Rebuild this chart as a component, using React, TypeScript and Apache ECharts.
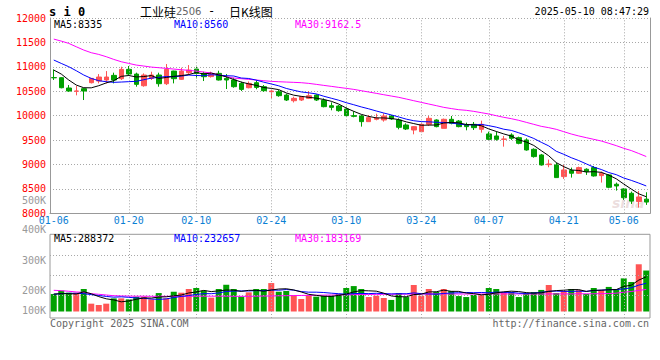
import React, { useEffect, useRef } from 'react';
import * as echarts from 'echarts';

// ---------------- data ----------------
const dates = [
  '01-06','01-07','01-08','01-09','01-10','01-13','01-14','01-15','01-16','01-17',
  '01-20','01-21','01-22','01-23','01-24','01-27','02-05','02-06','02-07','02-10',
  '02-11','02-12','02-13','02-14','02-17','02-18','02-19','02-20','02-21','02-24',
  '02-25','02-26','02-27','02-28','03-03','03-04','03-05','03-06','03-07','03-10',
  '03-11','03-12','03-13','03-14','03-17','03-18','03-19','03-20','03-21','03-24',
  '03-25','03-26','03-27','03-28','03-31','04-01','04-02','04-03','04-07','04-08',
  '04-09','04-10','04-11','04-14','04-15','04-16','04-17','04-18','04-21','04-22',
  '04-23','04-24','04-25','04-28','04-29','04-30','05-06','05-07','05-08','05-09',
];
const labelDates = ['01-06','01-20','02-10','02-24','03-10','03-24','04-07','04-21','05-06'];

const opens = [
  10780,10777,10566,10500,10552,10675,10709,10730,10825,10757,
  10948,10852,10613,10763,10832,10654,10913,10743,10880,10954,
  10866,10800,10866,10763,10730,10661,10572,10675,10593,10490,
  10490,10422,10306,10320,10354,10422,10313,10204,10197,10136,
  10000,9993,9877,9925,9911,9993,9911,9809,9706,9672,
  9822,9911,9740,9925,9890,9809,9822,9720,9625,9584,
  9515,9604,9549,9502,9311,9195,8997,8990,8752,8875,
  8820,8902,8936,8772,8786,8595,8499,8410,8240,8290,
];
const closes = [
  10775,10572,10504,10505,10504,10763,10791,10791,10730,10948,
  10852,10641,10832,10832,10654,10948,10757,10913,10934,10866,
  10798,10850,10730,10730,10593,10538,10661,10579,10511,10504,
  10409,10320,10354,10388,10409,10320,10184,10170,10102,10000,
  9986,9877,9959,9950,9993,9932,9761,9727,9775,9822,
  9945,9775,9925,9843,9775,9775,9754,9822,9515,9515,
  9522,9536,9433,9297,9161,8990,9010,8731,8888,8820,
  8936,8854,8765,8820,8533,8560,8320,8250,8335,8230,
];
const lows = [
  10730,10560,10490,10416,10320,10660,10661,10661,10661,10730,
  10818,10593,10593,10730,10593,10627,10661,10730,10832,10763,
  10709,10780,10720,10545,10572,10504,10560,10540,10490,10354,
  10388,10300,10270,10300,10340,10300,10170,10109,10081,9980,
  9966,9775,9877,9904,9877,9911,9720,9706,9618,9672,
  9788,9761,9740,9822,9761,9700,9706,9652,9502,9488,
  9365,9502,9413,9283,9140,8977,8943,8731,8704,8731,
  8806,8786,8752,8629,8513,8465,8274,8192,8117,8172,
];
const highs = [
  10948,10785,10627,10607,10565,10770,10852,10913,10880,11002,
  11016,10880,10866,10900,10880,11057,10920,10982,11036,11002,
  10900,10900,10920,10852,10777,10695,10700,10730,10627,10525,
  10525,10450,10388,10402,10504,10436,10354,10272,10218,10184,
  10088,10013,10013,10040,10047,10013,9945,9843,9788,9843,
  9993,9925,9940,9993,9911,9857,9870,9897,9672,9672,
  9584,9638,9570,9536,9331,9215,9100,9036,8990,8936,
  8956,8922,8970,8854,8800,8629,8513,8445,8458,8431,
];
const volumes = [
  145000,173000,156000,156000,187000,65000,54000,65000,109000,109000,
  101000,123000,123000,101000,153000,109000,164000,156000,187000,195000,
  173000,115000,187000,222000,187000,123000,159000,187000,187000,236000,
  164000,170000,137000,104000,137000,123000,131000,131000,145000,195000,
  211000,187000,120000,131000,112000,96000,153000,120000,220000,131000,
  187000,162000,187000,170000,128000,120000,137000,137000,195000,187000,
  162000,162000,120000,153000,162000,179000,220000,153000,170000,187000,
  179000,145000,195000,179000,204000,187000,275000,245000,392000,340000,
];

// moving-average values before enough bars exist in this window
const priceMa5Head = [10934, 10852, 10730, 10627];
const priceMa10Head = [11139, 11070, 11002, 10920, 10832, 10763, 10716, 10695, 10682];
const priceMa30 = [
  11568,11527,11480,11411,11343,11289,11254,11207,11152,11104,
  11070,11036,11016,10995,10982,10968,10954,10941,10927,10913,
  10893,10873,10840,10800,10770,10757,10743,10730,10716,10702,
  10695,10688,10682,10675,10661,10641,10620,10600,10579,10559,
  10538,10511,10484,10457,10429,10402,10375,10341,10306,10272,
  10238,10205,10170,10145,10122,10109,10088,10061,10034,9999,
  9966,9938,9904,9863,9822,9781,9754,9720,9672,9624,
  9584,9549,9515,9481,9434,9386,9331,9285,9225,9162.5,
];
const volMa5Head = [145000, 148000, 148000, 145000];
const volMa10Head = [143000, 148000, 151000, 151000, 148000, 140000, 133000, 125000, 119000];
const volMa30 = [
  176000,173000,168000,162000,159000,148000,143000,137000,131000,
  129000,128000,127000,127000,126000,126000,126000,126000,126000,126000,127000,127000,127000,
  127000,127000,126000,126000,
  126000,127000,128000,129000,130000,131000,132000,133000,134000,135000,
  136000,137000,138000,139000,140000,141000,142000,142000,143000,143000,
  144000,144000,145000,145000,146000,146000,146000,
  146000,145000,145000,145000,145000,146000,146000,146000,146000,146000,
  145000,145000,145000,146000,146000,146000,146000,147000,147000,147000,148000,
  149000,152000,160000,166000,175000,183000,
];

const priceMin = 8000;
const priceMax = 12000;
const priceStep = 500;
const volTickLabels = ['500K', '400K', '300K', '200K', '100K'];

const symbolText = 's i 0';
const productName = '工业硅';
const contractCode = '2506';
const titleDash = '-';
const chartKind = '日K线图';
const timestamp = '2025-05-10 08:47:29';
const priceMaLegend = ['MA5:8335', 'MA10:8560', 'MA30:9162.5'];
const volMaLegend = ['MA5:288372', 'MA10:232657', 'MA30:183169'];
const copyrightText = 'Copyright 2025 SINA.COM';
const siteText = 'http://finance.sina.com.cn';

// ---------------- layout / style ----------------
const FONT = '"DejaVu Sans Mono", monospace';
const CJK = '"Noto Sans CJK SC", sans-serif';
const UP = '#ff5555';
const DOWN = '#00a000';
const GRID_LINE = '#a8a8a8';
const BORDER = '#999999';
const MA_COLORS = ['#000000', '#0000ff', '#ff00ff'];
const LEGEND_X = [54, 174, 295];
const PRICE_GRID = { left: 50, top: 18, width: 600, height: 195.3 };
const VOL_GRID = { left: 50, top: 234.3, width: 600, height: 83.7 };
const VOL_ZERO_Y = 311.5;
const VOL_PER_PX = 8300;
const VOL_LINE_Y = [255, 275, 295];
const VOL_LABEL_Y = [200.5, 229.5, 260.7, 290.7, 310.7];

function movingAverage(values: number[], n: number, head: number[]) {
  return values.map((_, i) => {
    if (i < n - 1) return head[i];
    let s = 0;
    for (let k = i - n + 1; k <= i; k++) s += values[k];
    return Math.round((s / n) * 100) / 100;
  });
}

export default function App() {
  const ref = useRef<HTMLDivElement>(null);

  useEffect(() => {
    if (!ref.current) return;
    const chart = echarts.init(ref.current, undefined, { renderer: 'svg' });

    const labelIdx = labelDates.map((d) => dates.indexOf(d));
    const gridIdx = labelIdx.filter((i) => i > 0);
    const volMax = (VOL_ZERO_Y - VOL_GRID.top) * VOL_PER_PX;
    const volMin = -(VOL_GRID.top + VOL_GRID.height - VOL_ZERO_Y) * VOL_PER_PX;
    const volLineValues = VOL_LINE_Y.map((y) => (VOL_ZERO_Y - y) * VOL_PER_PX);

    const candles = dates.map((_, i) => [opens[i], closes[i], lows[i], highs[i]]);
    const priceMa5 = movingAverage(closes, 5, priceMa5Head);
    const priceMa10 = movingAverage(closes, 10, priceMa10Head);
    const volMa5 = movingAverage(volumes, 5, volMa5Head);
    const volMa10 = movingAverage(volumes, 10, volMa10Head);

    const dotted = { color: GRID_LINE, type: [1, 2] as any, width: 1 };
    const textStyle = (text: string, x: number, y: number, fill: string, align = 'left', font = `10px ${FONT}`) => ({
      type: 'text',
      x,
      y,
      silent: true,
      style: { text, fill, font, align, verticalAlign: 'middle' },
    });

    const lineSeries = (data: number[], color: string, xi: number, yi: number) => ({
      type: 'line',
      data,
      xAxisIndex: xi,
      yAxisIndex: yi,
      symbol: 'none',
      silent: true,
      lineStyle: { color, width: 1 },
      z: 5,
    });

    const option: any = {
      animation: false,
      backgroundColor: '#ffffff',
      grid: [
        { ...PRICE_GRID, show: false },
        { ...VOL_GRID, show: true, borderColor: BORDER, borderWidth: 1, backgroundColor: 'transparent' },
      ],
      xAxis: [
        {
          type: 'category',
          gridIndex: 0,
          data: dates,
          boundaryGap: true,
          axisLine: { show: true, onZero: false, lineStyle: { color: BORDER } },
          axisTick: { show: false },
          axisLabel: {
            interval: (i: number) => labelIdx.includes(i),
            color: '#0a80d4',
            fontFamily: FONT,
            fontSize: 10,
            margin: 2,
          },
          splitLine: { show: false },
        },
        {
          type: 'category',
          gridIndex: 1,
          data: dates,
          boundaryGap: true,
          axisLine: { show: false },
          axisTick: { show: false },
          axisLabel: { show: false },
          splitLine: { show: false },
        },
      ],
      yAxis: [
        {
          type: 'value',
          gridIndex: 0,
          min: priceMin,
          max: priceMax,
          interval: priceStep,
          axisLine: { show: true, lineStyle: { color: BORDER } },
          axisTick: { show: false },
          axisLabel: {
            color: '#ff0000',
            fontFamily: FONT,
            fontSize: 10,
            margin: 4,
            padding: [0, 0, 3, 0],
            formatter: (v: number) => String(v),
          },
          splitLine: { show: true, lineStyle: dotted },
        },
        {
          type: 'value',
          gridIndex: 1,
          min: volMin,
          max: volMax,
          axisLine: { show: false },
          axisTick: { show: false },
          axisLabel: { show: false },
          splitLine: { show: false },
        },
        {
          type: 'value',
          gridIndex: 0,
          position: 'right',
          min: priceMin,
          max: priceMax,
          axisLine: { show: true, lineStyle: { color: BORDER } },
          axisTick: { show: false },
          axisLabel: { show: false },
          splitLine: { show: false },
        },
      ],
      series: [
        {
          type: 'candlestick',
          xAxisIndex: 0,
          yAxisIndex: 0,
          data: candles,
          barWidth: 5,
          silent: true,
          itemStyle: { color: UP, color0: DOWN, borderColor: UP, borderColor0: DOWN, borderWidth: 1 },
          markLine: {
            silent: true,
            symbol: ['none', 'none'],
            label: { show: false },
            lineStyle: dotted,
            data: gridIdx.map((i) => ({ xAxis: dates[i] })),
          },
        },
        lineSeries(priceMa30, MA_COLORS[2], 0, 0),
        lineSeries(priceMa10, MA_COLORS[1], 0, 0),
        lineSeries(priceMa5, MA_COLORS[0], 0, 0),
        {
          type: 'bar',
          xAxisIndex: 1,
          yAxisIndex: 1,
          barWidth: 6,
          silent: true,
          data: volumes.map((v, i) => ({
            value: v,
            itemStyle: { color: closes[i] >= opens[i] ? UP : DOWN },
          })),
          markLine: {
            silent: true,
            symbol: ['none', 'none'],
            label: { show: false },
            lineStyle: dotted,
            data: [
              ...volLineValues.map((v) => ({ yAxis: v })),
              ...gridIdx.map((i) => ({ xAxis: dates[i] })),
            ],
          },
        },
        lineSeries(volMa30, MA_COLORS[2], 1, 1),
        lineSeries(volMa10, MA_COLORS[1], 1, 1),
        lineSeries(volMa5, MA_COLORS[0], 1, 1),
      ],
      graphic: [
        textStyle(symbolText, 49, 11.5, '#000', 'left', `bold 12px ${FONT}`),
        {
          type: 'text',
          x: 140,
          y: 11,
          silent: true,
          style: {
            text: `{a|${productName}}{b|${contractCode}}`,
            verticalAlign: 'middle',
            rich: {
              a: { fontFamily: CJK, fontSize: 12, fill: '#000', color: '#000' },
              b: { fontFamily: '"DejaVu Sans", sans-serif', fontSize: 10, fill: '#666', color: '#666' },
            },
          },
        },
        textStyle(titleDash, 208, 11, '#000', 'left', `12px ${FONT}`),
        textStyle(chartKind, 229, 11, '#000', 'left', `12px ${CJK}`),
        textStyle(timestamp, 649, 11.7, '#000', 'right'),
        ...priceMaLegend.map((t, k) => textStyle(t, LEGEND_X[k], 24.5, MA_COLORS[k])),
        ...volMaLegend.map((t, k) => textStyle(t, LEGEND_X[k], 238.5, MA_COLORS[k])),
        ...volTickLabels.map((t, k) => textStyle(t, 46, VOL_LABEL_Y[k], '#999', 'right')),
        textStyle(copyrightText, 50, 323, '#666'),
        textStyle(siteText, 649, 323, '#666', 'right'),
        {
          type: 'text',
          x: 612,
          y: 203,
          silent: true,
          z: 1,
          style: {
            text: 'sina',
            fill: 'rgba(200,160,160,0.35)',
            font: `italic bold 14px "DejaVu Sans", sans-serif`,
            verticalAlign: 'middle',
          },
        },
      ],
    };

    chart.setOption(option);
    return () => chart.dispose();
  }, []);

  return (
    <div
      ref={ref}
      style={{ position: 'absolute', left: 0, top: 0, width: 660, height: 360, background: '#fff' }}
    />
  );
}
